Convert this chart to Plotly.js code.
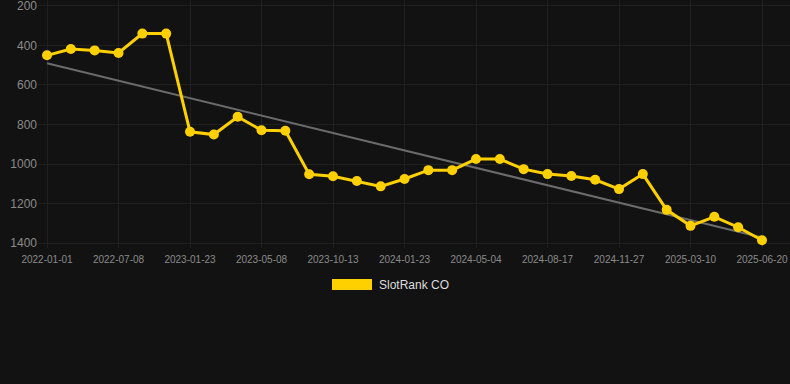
<!DOCTYPE html>
<html>
<head>
<meta charset="utf-8">
<script src="https://cdn.plot.ly/plotly-3.0.1.min.js"></script>
<style>
  html, body { margin: 0; padding: 0; background: #121212; }
  #chart { width: 790px; height: 384px; }
</style>
</head>
<body>
<div id="chart"></div>
<script>
// Dates (categories) of each observation
const dates = [
  "2022-01-01", "2022-03-01", "2022-05-05",
  "2022-07-08", "2022-09-15", "2022-11-20",
  "2023-01-23", "2023-02-27", "2023-04-03",
  "2023-05-08", "2023-06-28", "2023-08-20",
  "2023-10-13", "2023-11-13", "2023-12-18",
  "2024-01-23", "2024-02-28", "2024-04-01",
  "2024-05-04", "2024-06-08", "2024-07-13",
  "2024-08-17", "2024-09-22", "2024-10-25",
  "2024-11-27", "2024-12-31", "2025-02-04",
  "2025-03-10", "2025-04-13", "2025-05-17",
  "2025-06-20"
];
// SlotRank CO rank values
const rankCO = [
  450, 418, 425, 438, 340, 340,
  837, 851, 761, 829, 832, 1052,
  1062, 1086, 1113, 1076, 1031, 1031,
  975, 975, 1026, 1051, 1061, 1080,
  1127, 1051, 1232, 1313, 1267, 1320,
  1386
];
// Trend line endpoints
const trendX = ["2022-01-01", "2025-06-20"];
const trendY = [490, 1372];
// Labelled ticks
const tickDates = ["2022-01-01", "2022-07-08", "2023-01-23", "2023-05-08", "2023-10-13",
  "2024-01-23", "2024-05-04", "2024-08-17", "2024-11-27", "2025-03-10", "2025-06-20"];
const yTicks = [200, 400, 600, 800, 1000, 1200, 1400];
const seriesName = "SlotRank CO";

const gold = "#FFD000";
const L = 38, R = 0, T = 0, B = 136, W = 790, H = 384;
const pw = W - L - R, ph = H - T - B;
const px = x => (x - L) / pw;
const py = y => 1 - (y - T) / ph;

const traces = [
  {
    x: trendX, y: trendY, type: "scatter", mode: "lines",
    line: { color: "#6b6b6b", width: 2 }, hoverinfo: "skip", showlegend: false
  },
  {
    x: dates, y: rankCO, type: "scatter", mode: "lines+markers", name: seriesName,
    line: { color: gold, width: 3 },
    marker: { color: gold, size: 10 },
    showlegend: false
  }
];

const layout = {
  width: W, height: H,
  paper_bgcolor: "#121212", plot_bgcolor: "#121212",
  margin: { l: L, r: R, t: T, b: B },
  font: { family: "Liberation Sans, Arial, sans-serif", color: "#8a8a8a" },
  showlegend: false,
  xaxis: {
    type: "category",
    categoryorder: "array", categoryarray: dates,
    range: [-0.378, 31.175],
    tickmode: "array", tickvals: tickDates, ticktext: tickDates,
    tickfont: { size: 10, color: "#8a8a8a" },
    ticklabelstandoff: 4,
    ticklabeloverflow: "allow",
    showgrid: true, gridcolor: "#202020", gridwidth: 1,
    zeroline: false, showline: false, ticks: "", ticklen: 0
  },
  yaxis: {
    range: [1425, 170],
    tickmode: "array", tickvals: yTicks, ticktext: yTicks.map(String),
    tickfont: { size: 12, color: "#8a8a8a" },
    ticklabeloverflow: "allow",
    showgrid: true, gridcolor: "#202020", gridwidth: 1,
    zeroline: false, showline: false, ticks: "", ticklen: 0
  },
  shapes: [
    {
      type: "rect", xref: "paper", yref: "paper",
      x0: px(332), x1: px(372), y0: py(290), y1: py(279),
      fillcolor: gold, line: { width: 0 }
    }
  ],
  annotations: [
    {
      text: seriesName, xref: "paper", yref: "paper",
      x: px(377), y: py(285), xanchor: "left", yanchor: "middle",
      showarrow: false, font: { size: 12, color: "#dddddd" }
    }
  ]
};

Plotly.newPlot("chart", traces, layout, { displayModeBar: false, staticPlot: true });
</script>
</body>
</html>
